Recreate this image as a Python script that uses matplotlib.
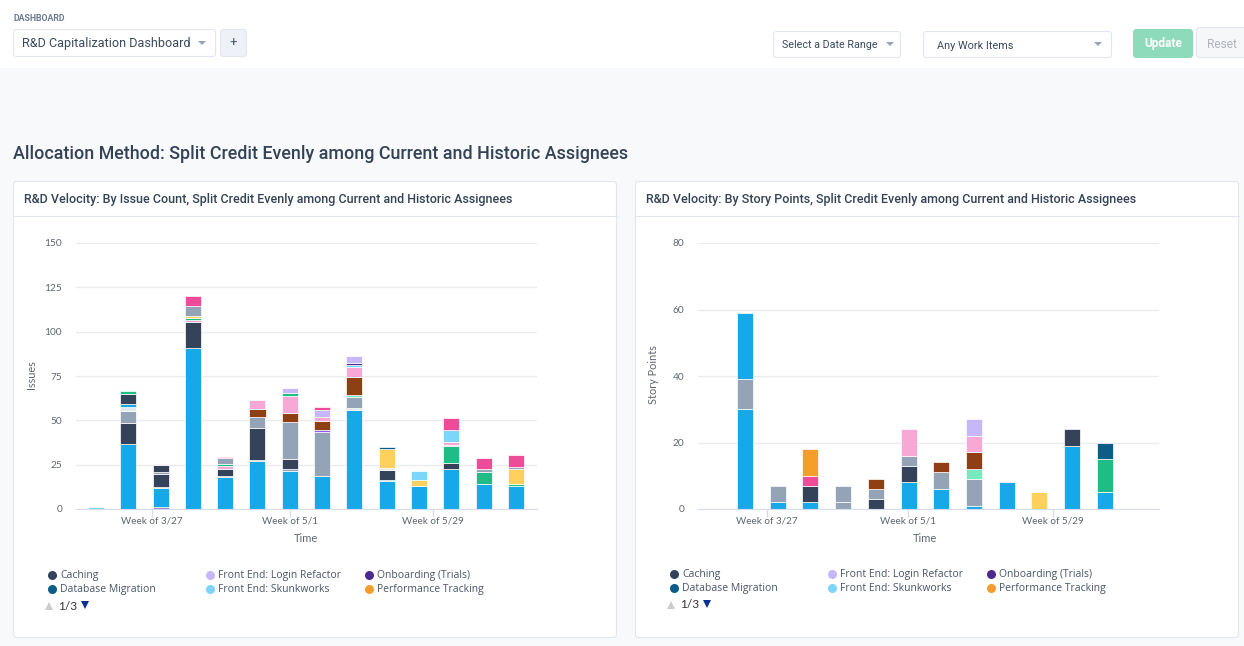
import matplotlib
matplotlib.use("Agg")
from matplotlib import pyplot as plt
from matplotlib.patches import FancyBboxPatch, Rectangle, Polygon

plt.rcParams['font.family'] = ['Roboto', 'DejaVu Sans']

W, H = 1244, 646

# colours
BLUE = "#16A8E8"
DARK = "#34435A"
GRAY = "#94A3B5"
PALE = "#E2E8F0"
BROWN = "#8F3F14"
PINK = "#F8A8D4"
LAV = "#C6B8F8"
MAGENTA = "#EE4B98"
YELLOW = "#FFD15C"
GREEN = "#1FBC85"
MINT = "#7AE8BF"
ORANGE = "#F59E2B"
SKY = "#7FD4FB"
NAVY = "#0B5C86"
PURPLE = "#4B2A8F"
VIOLET = "#8B5CF6"

# left chart: issue count, one value per bar, stacked in this order
sky_low     = [1.2, 0, 0, 0, 0, 0, 0, 0, 0, 0, 0, 0, 0, 0]
purple_low  = [0, 0, 1, 0, 0, 0, 0, 0, 0, 0, 0, 0, 0, 0]
issues_main = [0, 36.5, 11, 91, 17.8, 26.8, 21.7, 18.8, 56, 15.6, 13, 22.7, 14.3, 13.1]
gray_low    = [0, 0, 0.6, 0, 0.6, 0.8, 0.8, 0, 0, 0.6, 0, 0, 0, 0]
caching     = [0, 12, 7, 14.5, 4.3, 18.3, 5.5, 0, 0, 5.7, 0, 3, 0, 0]
pale_low    = [0, 0, 0, 0, 0, 0, 0, 0, 1.2, 1.2, 0, 0, 0, 0]
pink_low    = [0, 0, 0, 1.2, 1.6, 0, 0, 0, 0, 0, 0, 0, 0, 0]
green_low   = [0, 0, 0, 1, 1.2, 0, 0, 0, 0, 0, 0, 10.1, 6.5, 1]
yellow_low  = [0, 0, 0, 1, 0, 0, 0, 0, 0, 11, 3.6, 0, 0, 8.3]
gray_mid    = [0, 7, 1, 5.6, 3, 6, 21, 24.5, 6, 0, 0, 0.5, 2, 1.3]
pale_mid    = [0, 2, 0, 0, 0, 0, 0, 0, 0, 0, 0, 0, 0, 0]
violet_mid  = [0, 0, 0, 0, 0, 0, 0, 1.5, 0, 0, 0, 0, 0, 0]
mint_mid    = [0, 0, 0, 0, 0, 0, 0, 0, 1.2, 0, 0, 0, 0, 0]
blue_mid    = [0, 1.8, 0, 0, 0, 0, 0, 0, 0, 0, 0, 0, 0, 0]
dark_mid    = [0, 5.5, 4, 0, 0, 0, 0, 0, 0, 0, 0, 0, 0, 0]
brown_mid   = [0, 0, 0, 0, 0, 4.6, 5, 5, 10.3, 0, 0, 0, 0, 0]
pink_mid    = [0, 0, 0.8, 0, 0, 5, 10, 1.9, 5.3, 0, 0, 1.5, 0, 0]
green_top   = [0, 1.7, 0, 0, 0, 0, 1.2, 0, 0, 0, 0, 0, 0, 0]
sky_top     = [0, 0, 0, 0, 0, 0, 0, 0, 1.2, 0, 5, 6.5, 0, 0]
purple_top  = [0, 0, 0, 0, 0, 0, 0, 0, 1.2, 0, 0, 0, 0, 0]
lav_top     = [0, 0, 0, 0, 0, 0, 3, 4.2, 3.8, 0, 0, 0, 0, 0]
navy_top    = [0, 0, 0, 0, 0, 0, 0, 0, 0, 1, 0, 0, 0, 0]
magenta_top = [0, 0, 0, 6, 1, 0, 0, 1.8, 0, 0, 0, 7, 5.8, 6.8]

left_series = [
    (sky_low, SKY), (purple_low, "#9B7FC4"), (issues_main, BLUE), (gray_low, GRAY),
    (caching, DARK), (pale_low, PALE), (pink_low, PINK), (green_low, GREEN),
    (yellow_low, YELLOW), (gray_mid, GRAY), (pale_mid, PALE), (violet_mid, VIOLET),
    (mint_mid, MINT), (blue_mid, BLUE), (dark_mid, DARK), (brown_mid, BROWN),
    (pink_mid, PINK), (green_top, GREEN), (sky_top, SKY), (purple_top, PURPLE),
    (lav_top, LAV), (navy_top, NAVY), (magenta_top, MAGENTA),
]

# right chart: story points
sp_main    = [30, 2, 2, 0, 0, 8, 6, 1, 8, 0, 19, 5]
sp_gray0   = [0, 0, 0, 2, 0, 0, 0, 0, 0, 0, 0, 0]
sp_caching = [0, 0, 5, 0, 3, 5, 0, 0, 0, 0, 5, 0]
sp_gray    = [9, 5, 0, 5, 3, 3, 5, 8, 0, 0, 0, 0]
sp_mint    = [0, 0, 0, 0, 0, 0, 0, 3, 0, 0, 0, 0]
sp_blue2   = [20, 0, 0, 0, 0, 0, 0, 0, 0, 0, 0, 0]
sp_brown   = [0, 0, 0, 0, 3, 0, 3, 5, 0, 0, 0, 0]
sp_magenta = [0, 0, 3, 0, 0, 0, 0, 0, 0, 0, 0, 0]
sp_orange  = [0, 0, 8, 0, 0, 0, 0, 0, 0, 0, 0, 0]
sp_yellow  = [0, 0, 0, 0, 0, 0, 0, 0, 0, 5, 0, 0]
sp_pink    = [0, 0, 0, 0, 0, 8, 0, 5, 0, 0, 0, 0]
sp_lav     = [0, 0, 0, 0, 0, 0, 0, 5, 0, 0, 0, 0]
sp_green   = [0, 0, 0, 0, 0, 0, 0, 0, 0, 0, 0, 10]
sp_navy    = [0, 0, 0, 0, 0, 0, 0, 0, 0, 0, 0, 5]

right_series = [
    (sp_main, BLUE), (sp_gray0, GRAY), (sp_caching, DARK), (sp_gray, GRAY),
    (sp_mint, MINT), (sp_blue2, BLUE), (sp_brown, BROWN), (sp_magenta, MAGENTA),
    (sp_orange, ORANGE), (sp_yellow, YELLOW), (sp_pink, PINK), (sp_lav, LAV),
    (sp_green, GREEN), (sp_navy, NAVY),
]

week_labels = ["Week of 3/27", "Week of 5/1", "Week of 5/29"]
left_week_pos = [1.72, 6.0, 10.42]
right_week_pos = [0.67, 4.98, 9.41]
left_yticks = [0, 25, 50, 75, 100, 125, 150]
right_yticks = [0, 20, 40, 60, 80]

legend_col1 = [("Caching", DARK), ("Database Migration", NAVY)]
legend_col2 = [("Front End: Login Refactor", LAV), ("Front End: Skunkworks", SKY)]
legend_col3 = [("Onboarding (Trials)", PURPLE), ("Performance Tracking", ORANGE)]

fig = plt.figure(figsize=(W / 100, H / 100), dpi=100, facecolor="#F8F9FB")
bg = fig.add_axes([0, 0, 1, 1])
bg.set_xlim(0, W)
bg.set_ylim(H, 0)
bg.axis("off")

LABEL_FONT = ["Lato", "DejaVu Sans"]
LEGEND_FONT = ["Open Sans", "DejaVu Sans"]


def box(x, y, w, h, fc, ec="#E2E6EE", r=3):
    bg.add_patch(FancyBboxPatch((x + r + 0.5, y + r + 0.5), w - 2 * r - 1, h - 2 * r - 1,
                                boxstyle="round,pad=%d" % r, fc=fc, ec=ec, lw=0.8))


def caret(x, y):
    bg.add_patch(Polygon([(x - 4, y - 2), (x + 4, y - 2), (x, y + 2)], fc="#94A3B5", ec="none"))


# header strip
bg.add_patch(Rectangle((0, 0), W, 68, fc="white", ec="none"))
bg.text(13, 18.5, "DASHBOARD", fontsize=6.3, fontweight="bold", color="#6B7A90", va="center")
box(13, 29, 203, 28, "white")
bg.text(22, 43.5, "R&D Capitalization Dashboard", fontsize=9.05, color="#3C4A5E", va="center")
caret(202, 43)
box(220, 29, 27, 28, "#EEF2F8")
bg.text(233.5, 43, "+", fontsize=9.5, color="#4A5A70", va="center", ha="center")
box(773, 31, 128, 27, "white")
bg.text(782, 45, "Select a Date Range", fontsize=7.75, color="#3C4A5E", va="center")
caret(890, 44)
box(923, 31, 189, 27, "white")
bg.text(937, 46, "Any Work Items", fontsize=7.8, color="#3C4A5E", va="center")
caret(1098, 44)
box(1133, 29, 60, 29, "#8EDBBB", ec="#8EDBBB")
bg.text(1163, 44, "Update", fontsize=8.6, fontweight="bold", color="white", va="center", ha="center")
box(1196, 27, 60, 31, "#F6F7F9")
bg.text(1222, 44, "Reset", fontsize=8.6, color="#AEB5BF", va="center", ha="center")

bg.text(13, 154, "Allocation Method: Split Credit Evenly among Current and Historic Assignees",
        fontsize=12.9, fontweight="medium", color="#344256", va="center")


def panel(x0, title, ylabel, series, yticks, ymax, week_pos, first_px, step_px, ax_left,
          leg_y, time_x):
    box(x0, 181, 604, 457, "white")
    bg.plot([x0, x0 + 604], [215.5, 215.5], color="#E2E6EE", lw=0.8)
    bg.text(x0 + 11, 199, title, fontsize=9.02, fontweight="medium", color="#344256", va="center")

    ax_top, ax_bottom, ax_w = 243, 509, 461
    ax = fig.add_axes([ax_left / W, 1 - ax_bottom / H, ax_w / W, (ax_bottom - ax_top) / H])
    ax.patch.set_alpha(0)
    n = len(series[0][0])
    base = [0] * n
    for vals, col in series:
        # skip empty segments, their white edge would cut into the stack
        idx = [i for i in range(n) if vals[i] > 0]
        ax.bar(idx, [vals[i] for i in idx], width=16 / step_px, bottom=[base[i] for i in idx],
               color=col, edgecolor="white", linewidth=0.5, zorder=3)
        base = [b + v for b, v in zip(base, vals)]
    ax.set_xlim((ax_left - first_px) / step_px, (ax_left + ax_w - first_px) / step_px)
    ax.set_ylim(0, ymax)
    ax.set_yticks(yticks)
    ax.set_xticks(week_pos)
    ax.set_xticklabels(week_labels)
    ax.grid(axis="y", color="#EAECEF", lw=1)
    ax.set_axisbelow(True)
    for s in ["top", "left", "right"]:
        ax.spines[s].set_visible(False)
    ax.spines["bottom"].set_color("#D5DCEC")
    ax.spines["bottom"].set_zorder(4)
    ax.tick_params(axis="y", length=0, pad=10, labelsize=7.3, labelcolor="#5F6670")
    ax.tick_params(axis="x", length=5.5, width=1, color="#D5DCEC", pad=0, labelsize=7.1, labelcolor="#5F6670")
    for t in ax.get_xticklabels() + ax.get_yticklabels():
        t.set_fontfamily(LABEL_FONT)

    bg.text(x0 + 18.5, 375, ylabel, rotation=90, fontsize=7.8, color="#5F6670",
            va="center", ha="center", family=LABEL_FONT)
    bg.text(time_x, 539, "Time", fontsize=8, color="#5F6670", va="center", ha="center",
            family=LABEL_FONT)

    # legend page
    for col_x, items in zip([x0 + 39, x0 + 197, x0 + 356], [legend_col1, legend_col2, legend_col3]):
        for row, (name, col) in enumerate(items):
            y = leg_y + row * 13.5
            bg.plot(col_x, y, "o", ms=6.5, color=col, mec="none")
            bg.text(col_x + 8, y + 0.7, name, fontsize=7.45, color="#4A5568", va="center",
                    family=LEGEND_FONT)
    py = leg_y + 31
    px = x0 + 36
    bg.add_patch(Polygon([(px - 4, py + 4), (px + 4, py + 4), (px, py - 4)], fc="#CCCCCC", ec="none"))
    bg.text(px + 9, py, "1/3", fontsize=8.6, color="#333333", va="center", family=LABEL_FONT)
    bg.add_patch(Polygon([(px + 32, py - 5), (px + 40, py - 5), (px + 36, py + 3)], fc="#0A2F8F", ec="none"))


panel(13, "R&D Velocity: By Issue Count, Split Credit Evenly among Current and Historic Assignees",
      "Issues", left_series, left_yticks, 150, left_week_pos, 96, 32.3, 76, 575, 306)
panel(635, "R&D Velocity: By Story Points, Split Credit Evenly among Current and Historic Assignees",
      "Story Points", right_series, right_yticks, 80, right_week_pos, 745, 32.7, 698, 574, 925)

fig.savefig("out.png", dpi=100, facecolor=fig.get_facecolor())
